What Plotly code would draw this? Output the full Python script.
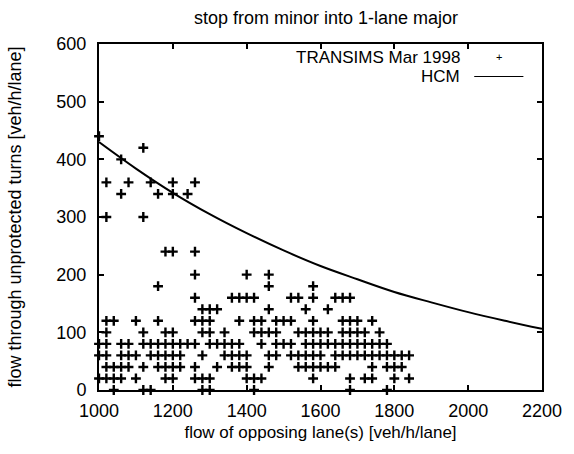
import plotly.graph_objects as go

# Simulated turn flows (veh/h/lane), one list of opposing flows per turn-flow level
turn_levels = [0, 20, 40, 60, 80, 100, 120, 140, 160, 180, 200, 240, 300, 340, 360, 400, 420, 440]

opp_at_0 = [1040, 1120, 1140, 1280, 1300, 1420, 1680, 1780]
opp_at_20 = [1000, 1020, 1040, 1060, 1100, 1180, 1200, 1260, 1280, 1300, 1400, 1420, 1440,
             1580, 1680, 1720, 1740, 1800, 1840]
opp_at_40 = [1020, 1040, 1060, 1080, 1120, 1160, 1180, 1200, 1220, 1260, 1320, 1360, 1380,
             1400, 1460, 1540, 1560, 1580, 1600, 1620, 1640, 1740, 1780, 1800, 1820]
opp_at_60 = [1000, 1020, 1060, 1080, 1100, 1140, 1160, 1180, 1200, 1220, 1280, 1340, 1360,
             1380, 1400, 1460, 1480, 1520, 1540, 1560, 1580, 1600, 1640, 1660, 1680, 1700,
             1720, 1740, 1760, 1780, 1800, 1820, 1840]
opp_at_80 = [1000, 1020, 1060, 1080, 1120, 1140, 1160, 1180, 1200, 1220, 1240, 1260, 1300,
             1320, 1340, 1360, 1380, 1440, 1480, 1500, 1520, 1560, 1580, 1600, 1620, 1640,
             1660, 1680, 1700, 1720, 1740, 1760, 1780]
opp_at_100 = [1020, 1120, 1180, 1200, 1280, 1300, 1340, 1420, 1440, 1460, 1480, 1540, 1560,
              1580, 1600, 1620, 1660, 1680, 1700, 1720, 1760]
opp_at_120 = [1020, 1040, 1100, 1160, 1260, 1280, 1300, 1380, 1420, 1440, 1480, 1500, 1520,
              1580, 1660, 1680, 1700, 1740]
opp_at_140 = [1280, 1300, 1320, 1460, 1560, 1620]
opp_at_160 = [1260, 1360, 1380, 1400, 1420, 1520, 1540, 1580, 1640, 1660, 1680]
opp_at_180 = [1160, 1460, 1580]
opp_at_200 = [1260, 1400, 1460]
opp_at_240 = [1180, 1200, 1260]
opp_at_300 = [1020, 1120]
opp_at_340 = [1060, 1160, 1200, 1240]
opp_at_360 = [1020, 1080, 1140, 1200, 1260]
opp_at_400 = [1060]
opp_at_420 = [1120]
opp_at_440 = [1000]

opp_rows = [opp_at_0, opp_at_20, opp_at_40, opp_at_60, opp_at_80, opp_at_100, opp_at_120,
            opp_at_140, opp_at_160, opp_at_180, opp_at_200, opp_at_240, opp_at_300,
            opp_at_340, opp_at_360, opp_at_400, opp_at_420, opp_at_440]

# HCM potential capacity curve
hcm_opposing = [1000, 1100, 1200, 1300, 1400, 1500, 1600, 1700, 1800, 1900, 2000, 2100, 2200]
hcm_capacity = [430, 384, 342, 305, 272, 242, 215, 192, 170, 152, 135, 120, 106]

x_ticks = [1000, 1200, 1400, 1600, 1800, 2000, 2200]
y_ticks = [0, 100, 200, 300, 400, 500, 600]

sim_x, sim_y = [], []
for level, row in zip(turn_levels, opp_rows):
    sim_x.extend(row)
    sim_y.extend([level] * len(row))

FONT = "Liberation Sans, Arial, Helvetica, sans-serif"

fig = go.Figure()
fig.add_trace(go.Scatter(
    x=sim_x, y=sim_y, mode="markers", name="TRANSIMS Mar 1998",
    marker=dict(symbol="cross-thin", size=7, line=dict(color="black", width=2.4)),
    cliponaxis=False, showlegend=False,
))
fig.add_trace(go.Scatter(
    x=hcm_opposing, y=hcm_capacity, mode="lines", name="HCM",
    line=dict(color="black", width=2, shape="spline"), showlegend=False,
))

axis_common = dict(
    showline=True, linecolor="black", linewidth=2, mirror="ticks",
    ticks="inside", ticklen=5, tickwidth=1.5, tickcolor="black",
    showgrid=False, zeroline=False,
    tickfont=dict(family=FONT, size=18, color="black"),
)
fig.update_xaxes(range=[1000, 2200], tickvals=x_ticks,
                 title=dict(text="flow of opposing lane(s) [veh/h/lane]",
                            font=dict(family=FONT, size=17, color="black"), standoff=7),
                 ticklabelstandoff=3, **axis_common)
fig.update_yaxes(range=[0, 600], tickvals=y_ticks,
                 title=dict(text="flow through unprotected turns [veh/h/lane]",
                            font=dict(family=FONT, size=18, color="black"), standoff=30),
                 ticklabelstandoff=7, **axis_common)

# Key in the upper right of the frame, label first then sample
fig.add_annotation(xref="paper", yref="paper", x=0.82, y=0.962, xanchor="right",
                   yanchor="middle", showarrow=False, text="TRANSIMS Mar 1998",
                   font=dict(family=FONT, size=17, color="black"))
fig.add_annotation(xref="paper", yref="paper", x=0.82, y=0.906, xanchor="right",
                   yanchor="middle", showarrow=False, text="HCM",
                   font=dict(family=FONT, size=17, color="black"))
fig.add_annotation(xref="paper", yref="paper", x=0.903, y=0.962, xanchor="center",
                   yanchor="middle", showarrow=False, text="+",
                   font=dict(family=FONT, size=11, color="black"))
fig.add_shape(type="line", xref="paper", yref="paper", x0=0.847, x1=0.958,
              y0=0.906, y1=0.906, line=dict(color="black", width=1.2))

fig.update_layout(
    width=574, height=454,
    margin=dict(l=99, r=23, t=44, b=64),
    paper_bgcolor="white", plot_bgcolor="white",
    title=dict(text="stop from minor into 1-lane major", x=0.568, xanchor="center",
               y=0.962, yanchor="middle",
               font=dict(family=FONT, size=18, color="black")),
    font=dict(family=FONT, color="black"),
)

fig.write_html("out.html")
